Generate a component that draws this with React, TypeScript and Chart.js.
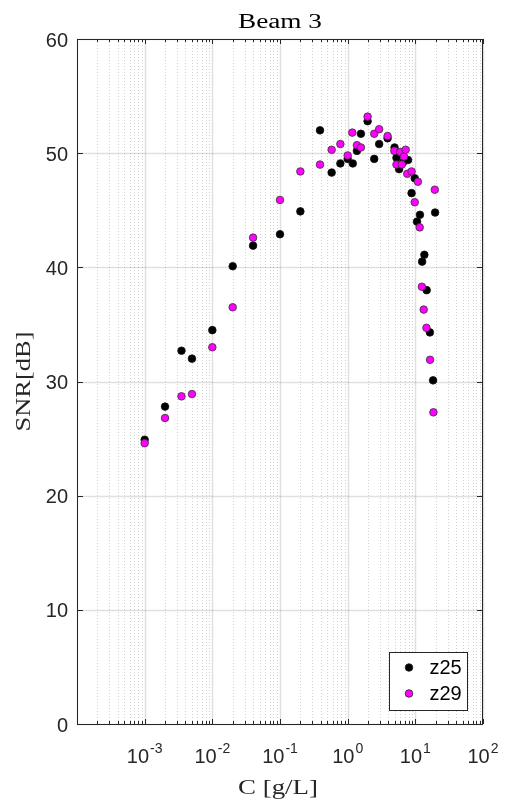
import React, { useEffect, useRef } from "react";
import { Chart, registerables } from "chart.js";
Chart.register(...registerables);

const seriesNames = ["z25", "z29"];
const z25C = [0.001, 0.002, 0.0035, 0.005, 0.01, 0.02, 0.04, 0.1, 0.2, 0.39, 0.58, 0.78, 1.0, 1.19, 1.37, 1.57, 1.97, 2.47, 2.92, 3.89, 4.93, 5.26, 5.76, 6.6, 7.8, 8.8, 9.8, 10.6, 11.7, 12.6, 13.6, 14.7, 16.4, 18.3, 19.6];
const z25SNR = [24.9, 27.8, 32.7, 32.0, 34.5, 40.1, 41.9, 42.9, 44.9, 52.0, 48.3, 49.1, 49.5, 49.1, 50.2, 51.7, 52.8, 49.5, 50.8, 51.3, 50.5, 49.6, 48.6, 49.2, 49.4, 46.5, 47.8, 44.0, 44.6, 40.5, 41.1, 38.0, 34.3, 30.1, 44.8];
const z29C = [0.001, 0.002, 0.0035, 0.005, 0.01, 0.02, 0.04, 0.1, 0.2, 0.39, 0.58, 0.78, 1.0, 1.17, 1.37, 1.57, 1.97, 2.47, 2.92, 3.89, 4.9, 5.26, 6.0, 6.3, 6.8, 7.2, 7.6, 8.8, 9.8, 10.9, 11.6, 12.5, 13.3, 14.6, 16.5, 18.5, 19.4];
const z29SNR = [24.6, 26.8, 28.7, 28.9, 33.0, 36.5, 42.6, 45.9, 48.4, 49.0, 50.3, 50.8, 49.8, 51.8, 50.7, 50.5, 53.2, 51.7, 52.1, 51.5, 50.2, 49.0, 50.1, 49.0, 49.7, 50.3, 48.2, 48.4, 45.7, 47.5, 43.5, 38.3, 36.3, 34.7, 31.9, 27.3, 46.8];
const yTicks = [0, 10, 20, 30, 40, 50, 60];
const xMajorExps = [-4, -3, -2, -1, 0, 1, 2];
const xLabelExps = [-3, -2, -1, 0, 1, 2];
const titleText = "Beam 3";
const xTitle = "C [g/L]";
const yTitle = "SNR[dB]";

const colors = ["#000000", "#ff00ff"];
const SANS = "'Liberation Sans', Arial, sans-serif";
const SERIF = "'Liberation Serif', 'DejaVu Serif', serif";

function wideText(ctx: any, text: string, x: number, y: number, targetW: number) {
  const w = ctx.measureText(text).width;
  const sx = targetW / w;
  ctx.save();
  ctx.translate(x, y);
  ctx.scale(sx, 1);
  ctx.textAlign = "center";
  ctx.fillText(text, 0, 0);
  ctx.restore();
}

const matlabPlugin = {
  id: "matlabAxes",
  beforeDatasetsDraw(chart: any) {
    const { ctx, chartArea: a, scales } = chart;
    const xs = scales.x, ys = scales.y;
    ctx.save();
    ctx.strokeStyle = "rgba(0,0,0,0.18)";
    ctx.lineWidth = 1;
    ctx.setLineDash([1, 2]);
    for (let e = -4; e < 2; e++) {
      for (let m = 2; m <= 9; m++) {
        const px = Math.round(xs.getPixelForValue(m * Math.pow(10, e))) + 0.5;
        ctx.beginPath();
        ctx.moveTo(px, a.top);
        ctx.lineTo(px, a.bottom);
        ctx.stroke();
      }
    }
    ctx.setLineDash([]);
    ctx.strokeStyle = "rgba(0,0,0,0.12)";
    ctx.lineWidth = 1.5;
    xMajorExps.forEach((e) => {
      const px = Math.round(xs.getPixelForValue(Math.pow(10, e))) + 0.5;
      ctx.beginPath();
      ctx.moveTo(px, a.top);
      ctx.lineTo(px, a.bottom);
      ctx.stroke();
    });
    yTicks.forEach((v) => {
      const py = Math.round(ys.getPixelForValue(v)) + 0.5;
      ctx.beginPath();
      ctx.moveTo(a.left, py);
      ctx.lineTo(a.right, py);
      ctx.stroke();
    });
    ctx.restore();
  },
  afterDatasetsDraw(chart: any) {
    const { ctx, chartArea: a, scales } = chart;
    const xs = scales.x, ys = scales.y;
    ctx.save();
    const axisColor = "#262626";
    ctx.strokeStyle = axisColor;
    ctx.lineWidth = 1;
    ctx.strokeRect(Math.round(a.left) + 0.5, Math.round(a.top) + 0.5, Math.round(a.right - a.left) - 1, Math.round(a.bottom - a.top));
    for (let e = -4; e <= 2; e++) {
      for (let m = 1; m <= 9; m++) {
        const v = m * Math.pow(10, e);
        if (v > 100.0001) continue;
        const px = Math.round(xs.getPixelForValue(v)) + 0.5;
        const len = m === 1 ? 5 : 3;
        ctx.beginPath();
        ctx.moveTo(px, a.bottom);
        ctx.lineTo(px, a.bottom - len);
        ctx.moveTo(px, a.top);
        ctx.lineTo(px, a.top + len);
        ctx.stroke();
      }
    }
    yTicks.forEach((v) => {
      const py = Math.round(ys.getPixelForValue(v)) + 0.5;
      ctx.beginPath();
      ctx.moveTo(a.left, py);
      ctx.lineTo(a.left + 6, py);
      ctx.moveTo(a.right, py);
      ctx.lineTo(a.right - 6, py);
      ctx.stroke();
    });
    ctx.fillStyle = axisColor;
    ctx.font = `20px ${SANS}`;
    ctx.textAlign = "right";
    ctx.textBaseline = "middle";
    yTicks.forEach((v) => {
      ctx.fillText(String(v), a.left - 9, ys.getPixelForValue(v) + 2);
    });
    xLabelExps.forEach((e) => {
      const px = xs.getPixelForValue(Math.pow(10, e));
      ctx.font = `20px ${SANS}`;
      const bw = ctx.measureText("10").width;
      ctx.font = `14px ${SANS}`;
      const sup = String(e);
      const sw = ctx.measureText(sup).width;
      const total = bw + sw + 1;
      const x0 = px - total / 2;
      ctx.textAlign = "left";
      ctx.textBaseline = "alphabetic";
      ctx.font = `20px ${SANS}`;
      ctx.fillText("10", x0, a.bottom + 39);
      ctx.font = `14px ${SANS}`;
      ctx.fillText(sup, x0 + bw + 1, a.bottom + 29);
    });
    ctx.fillStyle = "#262626";
    ctx.font = `21px ${SERIF}`;
    ctx.textBaseline = "alphabetic";
    wideText(ctx, xTitle, (a.left + a.right) / 2 - 2, a.bottom + 70, 80);
    ctx.save();
    ctx.translate(30, (a.top + a.bottom) / 2);
    ctx.rotate(-Math.PI / 2);
    wideText(ctx, yTitle, 0, 0, 100);
    ctx.restore();
    ctx.fillStyle = "#000";
    ctx.font = `20px ${SERIF}`;
    wideText(ctx, titleText, (a.left + a.right) / 2, a.top - 11, 84);
    // legend
    const lx = 389.5, ly = 652.5, lw = 78, lh = 58;
    ctx.fillStyle = "#fff";
    ctx.fillRect(lx, ly, lw, lh);
    ctx.strokeStyle = "#262626";
    ctx.lineWidth = 1;
    ctx.strokeRect(lx, ly, lw, lh);
    seriesNames.forEach((n, i) => {
      const cy = ly + 15 + i * 26;
      ctx.beginPath();
      ctx.arc(lx + 19.5, cy, 3.8, 0, Math.PI * 2);
      ctx.fillStyle = colors[i];
      ctx.fill();
      ctx.lineWidth = 0.8;
      ctx.strokeStyle = "#222";
      ctx.stroke();
      ctx.fillStyle = "#000";
      ctx.font = `20px ${SANS}`;
      ctx.textAlign = "left";
      ctx.textBaseline = "middle";
      ctx.fillText(n, lx + 40, cy + 1);
    });
    ctx.restore();
  },
};

export default function App() {
  const ref = useRef<HTMLCanvasElement | null>(null);
  useEffect(() => {
    if (!ref.current) return;
    const chart = new Chart(ref.current, {
      type: "scatter",
      data: {
        datasets: [
          {
            label: seriesNames[0],
            data: z25C.map((c, i) => ({ x: c, y: z25SNR[i] })),
            backgroundColor: colors[0],
            borderColor: "#111",
            borderWidth: 0.8,
            pointRadius: 3.8,
            order: 1,
          },
          {
            label: seriesNames[1],
            data: z29C.map((c, i) => ({ x: c, y: z29SNR[i] })),
            backgroundColor: colors[1],
            borderColor: "#333",
            borderWidth: 0.8,
            pointRadius: 3.8,
            order: 0,
          },
        ],
      },
      options: {
        responsive: false,
        animation: false,
        devicePixelRatio: 1,
        layout: { padding: { top: 39, right: 22, left: 0, bottom: 0 } },
        plugins: { legend: { display: false }, title: { display: false }, tooltip: { enabled: false } },
        scales: {
          x: {
            type: "logarithmic",
            min: 1e-4,
            max: 100,
            ticks: { display: false },
            grid: { display: false },
            border: { display: false },
            afterFit: (s: any) => { s.height = 79; },
          },
          y: {
            type: "linear",
            min: 0,
            max: 60,
            ticks: { display: false },
            grid: { display: false },
            border: { display: false },
            afterFit: (s: any) => { s.width = 77; },
          },
        },
      },
      plugins: [matlabPlugin],
    } as any);
    return () => chart.destroy();
  }, []);
  return (
    <div style={{ position: "absolute", left: 0, top: 0, width: 505, height: 803, background: "#fff" }}>
      <canvas ref={ref} width={505} height={803} style={{ display: "block" }} />
    </div>
  );
}
